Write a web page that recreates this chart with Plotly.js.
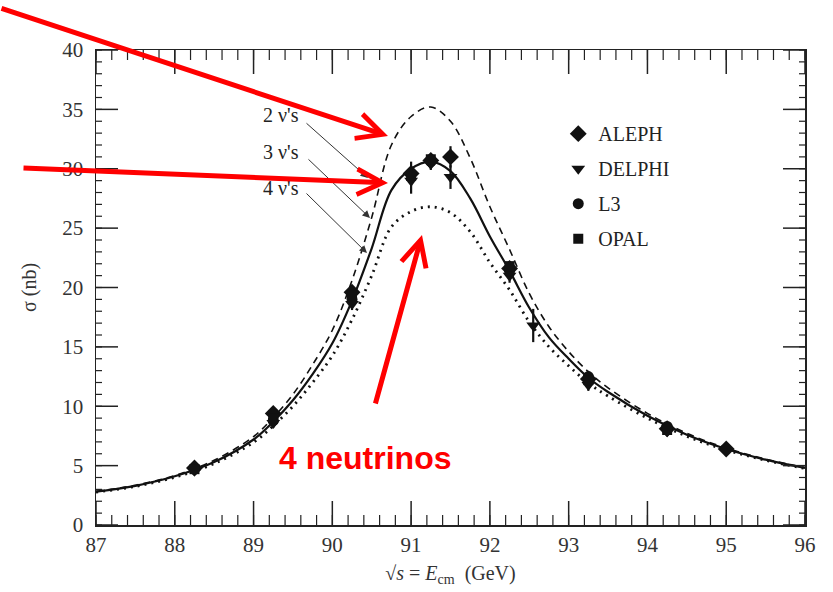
<!DOCTYPE html>
<html>
<head>
<meta charset="utf-8">
<script src="https://cdn.plot.ly/plotly-3.0.1.min.js"></script>
<style>html,body{margin:0;padding:0;background:#fff;}#plot{width:833px;height:592px;}</style>
</head>
<body>
<div id="plot"></div>
<script>
// Centre-of-mass energies (GeV) for the model curves
const energies = [87.0, 87.5, 88.0, 88.5, 89.0, 89.25, 89.5, 89.75, 90.0, 90.25, 90.5, 90.75, 91.0, 91.25, 91.5, 91.75, 92.0, 92.25, 92.5, 92.75, 93.0, 93.25, 93.5, 94.0, 94.5, 95.0, 95.5, 96.0];
// Cross sections (nb) for 2, 3 and 4 neutrino families
const sigma2nu = [2.83, 3.35, 4.17, 5.45, 7.45, 9.05, 11.0, 13.5, 16.4, 20.6, 25.9, 32.0, 34.4, 35.2, 34.0, 30.9, 26.8, 23.2, 19.5, 16.7, 14.6, 12.9, 11.55, 9.4, 7.72, 6.48, 5.55, 4.84];
const sigma3nu = [2.8, 3.3, 4.1, 5.3, 7.2, 8.7, 10.5, 12.7, 15.3, 18.9, 23.3, 28.2, 30.0, 30.6, 29.8, 27.5, 24.3, 21.4, 18.3, 15.8, 14.0, 12.4, 11.2, 9.2, 7.6, 6.4, 5.5, 4.8];
const sigma4nu = [2.77, 3.25, 4.02, 5.17, 6.96, 8.35, 10.0, 12.0, 14.25, 17.3, 21.0, 25.1, 26.4, 26.8, 26.3, 24.7, 22.1, 19.8, 17.1, 15.0, 13.4, 11.95, 10.85, 9.0, 7.47, 6.32, 5.45, 4.76];

// Measurements
const alephE = [88.25, 89.25, 90.25, 91.0, 91.25, 91.5, 92.25, 93.25, 94.25, 95.0];
const alephS = [4.8, 9.4, 19.6, 29.6, 30.7, 31.0, 21.6, 12.3, 8.1, 6.4];
const alephErr = [0.3, 0.4, 0.5, 1.0, 0.5, 0.9, 0.5, 0.4, 0.3, 0.4];
const delphiE = [88.25, 89.25, 90.25, 91.0, 91.25, 91.5, 92.25, 92.55, 93.25, 94.25];
const delphiS = [4.6, 8.6, 18.6, 29.0, 30.4, 29.3, 21.0, 16.8, 11.8, 7.9];
const delphiErr = [0.3, 0.4, 0.5, 1.1, 0.5, 1.0, 0.6, 1.4, 0.5, 0.3];
const l3E = [88.25, 89.25, 90.25, 91.25, 92.25, 93.25, 94.25];
const l3S = [4.7, 8.8, 19.0, 30.6, 21.4, 12.5, 8.3];
const l3Err = [0.2, 0.3, 0.4, 0.4, 0.4, 0.3, 0.3];
const opalE = [88.25, 89.25, 90.25, 91.0, 91.25, 92.25, 93.25, 94.25];
const opalS = [4.7, 9.0, 19.3, 29.4, 30.8, 21.8, 12.2, 8.0];
const opalErr = [0.2, 0.3, 0.4, 0.6, 0.4, 0.4, 0.3, 0.3];

const labelNu = ["2 ν's", "3 ν's", "4 ν's"];
const xRange = [87, 96];
const yRange = [0, 40];
const xMajorStep = 1, xMinorStep = 0.2, yMajorStep = 5, yMinorStep = 1;

const serif = "Liberation Serif, DejaVu Serif, serif";
const ink = "#111";

function curve(y, dash, width) {
  return {x: energies, y: y, mode: "lines", type: "scatter", showlegend: false,
    line: {color: ink, width: width, dash: dash, shape: "spline"}, hoverinfo: "skip"};
}
function exp(name, xs, ys, es, symbol, size, i) {
  return {x: xs, y: ys, name: name, mode: "markers", type: "scatter", legendgroup: "g" + i,
    marker: {symbol: symbol, size: size, color: ink},
    error_y: {type: "data", array: es, visible: true, color: ink, thickness: 2.2, width: 0}};
}

const traces = [
  curve(sigma2nu, "7px,5px", 1.6),
  curve(sigma3nu, "solid", 2.2),
  curve(sigma4nu, "2px,5px", 2.8),
  exp("ALEPH", alephE, alephS, alephErr, "diamond", 13, 1),
  exp("DELPHI", delphiE, delphiS, delphiErr, "triangle-down", 12, 2),
  exp("L3", l3E, l3S, l3Err, "circle", 11, 3),
  exp("OPAL", opalE, opalS, opalErr, "square", 10, 4)
];

// Plot-area size in pixels (from margins) to express tick lengths as paper fractions
const W = 833, H = 592, M = {l: 96, r: 28, t: 50, b: 67};
const plotW = W - M.l - M.r, plotH = H - M.t - M.b;

function tickValues(lo, hi, step) {
  const out = [];
  const n = Math.round((hi - lo) / step);
  for (let i = 0; i <= n; i++) out.push(+(lo + i * step).toFixed(4));
  return out;
}
const shapes = [];
function xTick(v, len, w) {
  const f = len / plotH;
  shapes.push({type: "line", xref: "x", yref: "paper", x0: v, x1: v, y0: 0, y1: f, line: {color: "#222", width: w}});
  shapes.push({type: "line", xref: "x", yref: "paper", x0: v, x1: v, y0: 1, y1: 1 - f, line: {color: "#222", width: w}});
}
function yTick(v, len, w) {
  const f = len / plotW;
  shapes.push({type: "line", xref: "paper", yref: "y", y0: v, y1: v, x0: 0, x1: f, line: {color: "#222", width: w}});
  shapes.push({type: "line", xref: "paper", yref: "y", y0: v, y1: v, x0: 1, x1: 1 - f, line: {color: "#222", width: w}});
}
tickValues(xRange[0], xRange[1], xMinorStep).forEach(v => xTick(v, 10, 1.2));
tickValues(xRange[0], xRange[1], xMajorStep).forEach(v => xTick(v, 24, 1.5));
tickValues(yRange[0], yRange[1], yMinorStep).forEach(v => yTick(v, 6, 1.2));
tickValues(yRange[0], yRange[1], yMajorStep).forEach(v => yTick(v, 22, 1.5));

const red = "#ff0000";
const labFont = {family: serif, size: 20, color: "#222"};
const annotations = [
  {x: 89.6, y: 34.5, xref: "x", yref: "y", text: labelNu[0], showarrow: false, xanchor: "right", yanchor: "middle", font: labFont},
  {x: 89.6, y: 31.4, xref: "x", yref: "y", text: labelNu[1], showarrow: false, xanchor: "right", yanchor: "middle", font: labFont},
  {x: 89.6, y: 28.4, xref: "x", yref: "y", text: labelNu[2], showarrow: false, xanchor: "right", yanchor: "middle", font: labFont},
  // leader lines
  {x: 90.453, y: 29.22, ax: 89.653, ay: 33.94, xref: "x", yref: "y", axref: "x", ayref: "y", text: "", showarrow: true, arrowhead: 2, arrowsize: 1.5, arrowwidth: 1, arrowcolor: "#333"},
  {x: 90.478, y: 25.85, ax: 89.678, ay: 30.91, xref: "x", yref: "y", axref: "x", ayref: "y", text: "", showarrow: true, arrowhead: 2, arrowsize: 1.5, arrowwidth: 1, arrowcolor: "#333"},
  {x: 90.44, y: 22.9, ax: 89.653, ay: 28.04, xref: "x", yref: "y", axref: "x", ayref: "y", text: "", showarrow: true, arrowhead: 2, arrowsize: 1.5, arrowwidth: 1, arrowcolor: "#333"},
  // red call-out arrows
  {x: (388 - 96) / 709, y: (525 - 136) / 475, xref: "paper", yref: "paper", ax: -388, ay: -128, text: "", showarrow: true, arrowhead: 5, arrowsize: 1, arrowwidth: 5, arrowcolor: red},
  {x: (388 - 96) / 709, y: (525 - 183) / 475, xref: "paper", yref: "paper", ax: -366, ay: -15, text: "", showarrow: true, arrowhead: 5, arrowsize: 1, arrowwidth: 5, arrowcolor: red},
  {x: (422 - 96) / 709, y: (525 - 235) / 475, xref: "paper", yref: "paper", ax: -47, ay: 170, text: "", showarrow: true, arrowhead: 5, arrowsize: 1, arrowwidth: 5, arrowcolor: red},
  {x: (365 - 96) / 709, y: (525 - 458) / 475, xref: "paper", yref: "paper", xanchor: "center", yanchor: "middle", text: "<b>4 neutrinos</b>", showarrow: false, font: {family: "Liberation Sans, Arial, sans-serif", size: 32, color: red}}
];

const layout = {
  width: W, height: H,
  margin: M,
  paper_bgcolor: "#fff", plot_bgcolor: "#fff",
  showlegend: true,
  legend: {x: 0.652, y: 0.865, xanchor: "left", yanchor: "top", traceorder: "grouped", tracegroupgap: 6,
    font: {family: serif, size: 20, color: "#222"}, bgcolor: "rgba(0,0,0,0)"},
  xaxis: {range: xRange, tickmode: "linear", tick0: xRange[0], dtick: xMajorStep, ticks: "",
    showline: true, linecolor: "#222", linewidth: 1.5, mirror: true, showgrid: false, zeroline: false, fixedrange: true,
    tickfont: {family: serif, size: 21, color: "#333"},
    title: {text: "√<i>s</i> = <i>E</i><sub>cm</sub>  (GeV)", font: {family: serif, size: 20, color: "#333"}, standoff: 10}},
  yaxis: {range: yRange, tickmode: "linear", tick0: yRange[0], dtick: yMajorStep, ticks: "",
    showline: true, linecolor: "#222", linewidth: 1.5, mirror: true, showgrid: false, zeroline: false, fixedrange: true,
    ticksuffix: "\u2004",
    tickfont: {family: serif, size: 21, color: "#333"},
    title: {text: "σ (nb)", font: {family: serif, size: 20, color: "#333"}, standoff: 20}},
  shapes: shapes,
  annotations: annotations
};

Plotly.newPlot("plot", traces, layout, {displayModeBar: false, staticPlot: true});
</script>
</body>
</html>
